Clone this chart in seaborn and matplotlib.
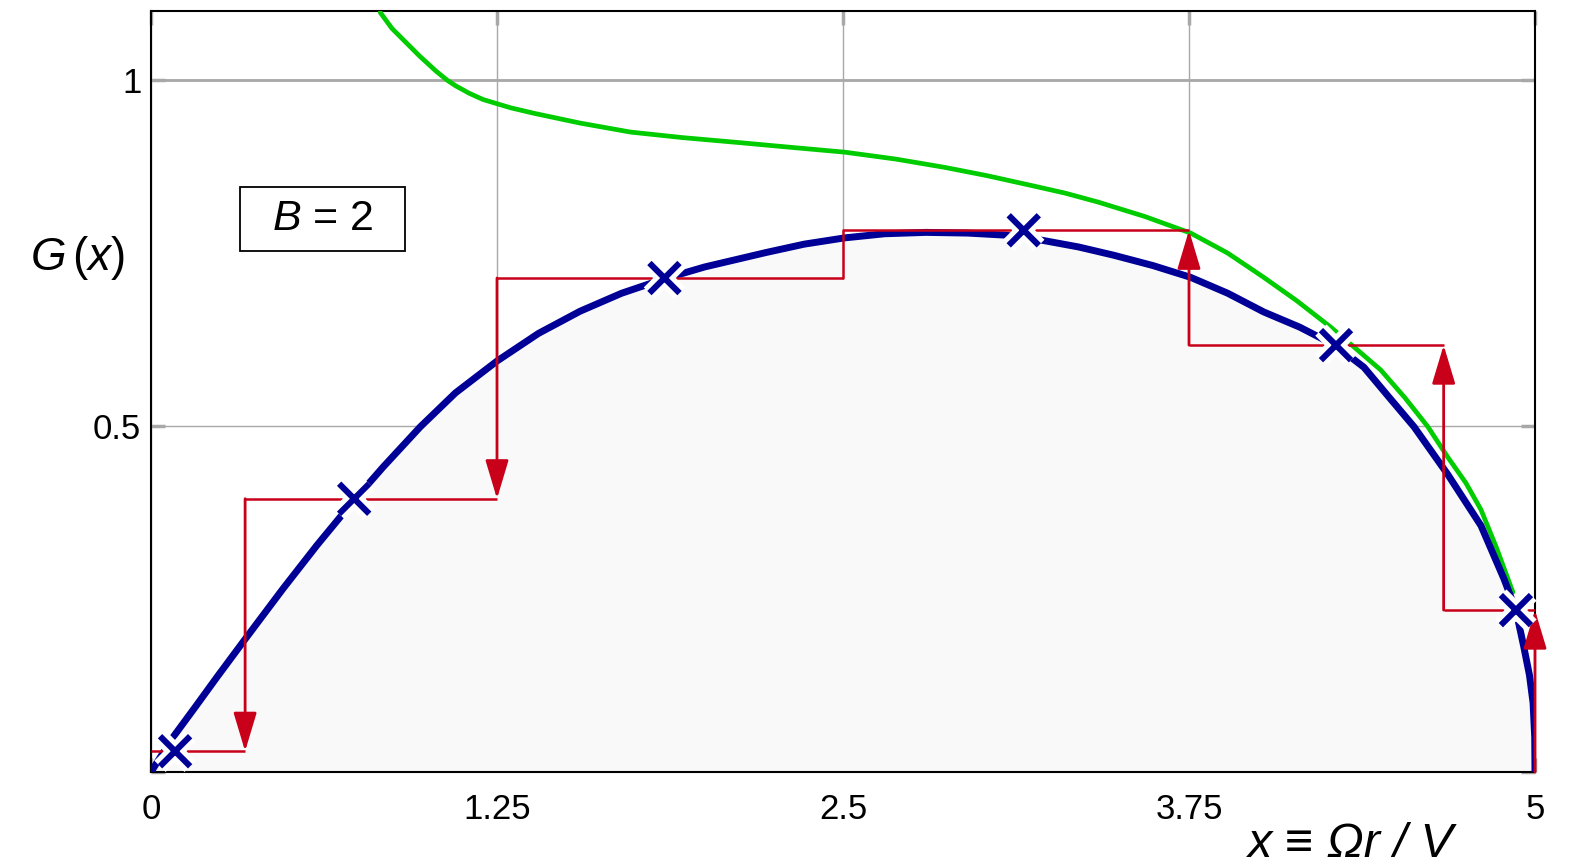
import numpy as np
import pandas as pd
import matplotlib
matplotlib.use("Agg")
import matplotlib.pyplot as plt
import matplotlib.patheffects as pe
from matplotlib.patches import Rectangle
import seaborn as sns

# blue curve G(x)
blue_x = [0.0, 0.079, 0.160, 0.238, 0.340, 0.477, 0.600, 0.734, 0.839, 0.973,
          1.10, 1.25, 1.40, 1.55, 1.70, 1.855, 2.0, 2.223, 2.36, 2.505, 2.65,
          2.80, 2.95, 3.087, 3.214, 3.35, 3.478, 3.62, 3.756, 3.89, 4.02,
          4.15, 4.281, 4.382, 4.47, 4.563, 4.685, 4.805, 4.888, 4.931, 4.96,
          4.98, 4.993, 4.999, 5.0]
blue_g = [0.0, 0.050, 0.094, 0.137, 0.192, 0.265, 0.328, 0.393, 0.441, 0.499,
          0.548, 0.594, 0.634, 0.666, 0.692, 0.713, 0.730, 0.751, 0.763,
          0.772, 0.778, 0.780, 0.779, 0.776, 0.769, 0.759, 0.747, 0.732,
          0.715, 0.692, 0.665, 0.643, 0.616, 0.585, 0.543, 0.499, 0.430,
          0.356, 0.279, 0.234, 0.180, 0.140, 0.100, 0.050, 0.0]

# green bounding curve
green_x = [0.828, 0.87, 0.925, 0.97, 1.03, 1.07, 1.10, 1.15, 1.20, 1.30,
           1.385, 1.55, 1.732, 1.92, 2.119, 2.31, 2.505, 2.69, 2.867, 3.02,
           3.178, 3.30, 3.42, 3.59, 3.756, 3.89, 4.02, 4.14, 4.262, 4.35,
           4.443, 4.53, 4.613, 4.685, 4.75, 4.805, 4.86, 4.92]
green_g = [1.098, 1.075, 1.053, 1.035, 1.013, 1.0, 0.992, 0.981, 0.972, 0.960,
           0.952, 0.938, 0.925, 0.917, 0.910, 0.903, 0.896, 0.886, 0.874,
           0.862, 0.848, 0.837, 0.824, 0.803, 0.779, 0.750, 0.715, 0.681,
           0.643, 0.613, 0.581, 0.541, 0.499, 0.455, 0.418, 0.379, 0.325,
           0.26]

# sample points (crosses)
pt_x = [0.087, 0.734, 1.855, 3.153, 4.281, 4.931]
pt_g = [0.030, 0.395, 0.714, 0.783, 0.617, 0.234]

# staircase: edges and levels
step_edges = [0.0, 0.34, 1.25, 2.5, 3.75, 4.67, 5.0]
step_levels = [0.030, 0.395, 0.714, 0.783, 0.617, 0.234]

x_ticks = [0, 1.25, 2.5, 3.75, 5]
x_ticklabels = ["0", "1.25", "2.5", "3.75", "5"]
y_ticks = [0.0, 0.5, 1.0]
y_ticklabels = ["", "0.5", "1"]

sns.set_style("white")
plt.rcParams["font.family"] = ["Liberation Sans", "DejaVu Sans"]
plt.rcParams["mathtext.fontset"] = "custom"
plt.rcParams["mathtext.rm"] = "Liberation Sans"
plt.rcParams["mathtext.it"] = "Liberation Sans:italic"
plt.rcParams["text.color"] = "black"
plt.rcParams["xtick.labelcolor"] = "black"
plt.rcParams["ytick.labelcolor"] = "black"

blue = "#000096"
green = "#00cc00"
red = "#c8001a"
grid_c = "#a8a8a8"

fig = plt.figure(figsize=(15.72, 8.68), dpi=100)
ax = fig.add_axes([151 / 1572, 1 - 772 / 868, (1535 - 151) / 1572,
                   (772 - 11) / 868])

blue_df = pd.DataFrame({"x": blue_x, "G": blue_g})
green_df = pd.DataFrame({"x": green_x, "G": green_g})
pts_df = pd.DataFrame({"x": pt_x, "G": pt_g})

ax.fill_between(blue_x, blue_g, 0, color="#f9f9f9", zorder=1, lw=0)

sns.lineplot(data=green_df, x="x", y="G", color=green, lw=3.4, ax=ax,
             sort=False, zorder=3)
sns.lineplot(data=blue_df, x="x", y="G", color=blue, lw=5, ax=ax,
             sort=False, zorder=4)

# staircase
ax.hlines(step_levels, step_edges[:-1], step_edges[1:], color=red, lw=1.8,
          zorder=5)
for i in range(1, len(step_edges)):
    xe = step_edges[i]
    y0 = step_levels[i - 1]
    if i == len(step_edges) - 1:
        start, end = 0.0, y0
    else:
        start, end = step_levels[i], y0
    if i == 3:
        ax.plot([xe, xe], [start, end], color=red, lw=1.8, zorder=5)
        continue
    ax.annotate("", xy=(xe, end), xytext=(xe, start),
                arrowprops=dict(arrowstyle="-|>,head_length=1.2,head_width=0.36",
                                mutation_scale=20, color=red, lw=2,
                                shrinkA=0, shrinkB=0),
                zorder=6, annotation_clip=False)

sc = sns.scatterplot(data=pts_df, x="x", y="G", marker="x", s=470,
                     color=blue, linewidth=4.4, ax=ax, zorder=8, clip_on=False)
sc.collections[-1].set_path_effects(
    [pe.Stroke(linewidth=11.5, foreground="white"), pe.Normal()])

ax.set_xlim(0, 5)
ax.set_ylim(0, 1.1)
ax.set_xticks(x_ticks)
ax.set_xticklabels(x_ticklabels, fontsize=25)
ax.set_yticks(y_ticks)
ax.set_yticklabels(y_ticklabels, fontsize=25)
ax.tick_params(direction="in", length=10, width=2.5, color=grid_c,
               top=True, right=True, bottom=True, left=True)
ax.tick_params(axis="x", pad=15)
ax.tick_params(axis="y", pad=7)
ax.grid(True, color=grid_c, lw=1, zorder=0)
ax.axhline(1.0, color=grid_c, lw=2, zorder=0)
for s in ax.spines.values():
    s.set_color("black")
    s.set_linewidth(1.5)
ax.set_axisbelow(True)
ax.set_xlabel("")
ax.set_ylabel("")

fig.text(30 / 1572, 1 - 258 / 868, r"$G\,(x)$", fontsize=33, va="center",
         ha="left")
fig.text(1248 / 1572, 1 - 867 / 868, "x \u2261 \u03a9r / V",
         fontsize=35, fontstyle="italic", va="bottom", ha="left")

# "B = 2" box
ax.add_patch(Rectangle((0.3215, 0.753), 0.596, 0.092, fc="white",
                       ec="black", lw=1.3, zorder=9))
ax.text(0.62, 0.799, r"$B$ = 2", fontsize=31, ha="center", va="center",
        zorder=10)

fig.savefig("out.png", dpi=100)
